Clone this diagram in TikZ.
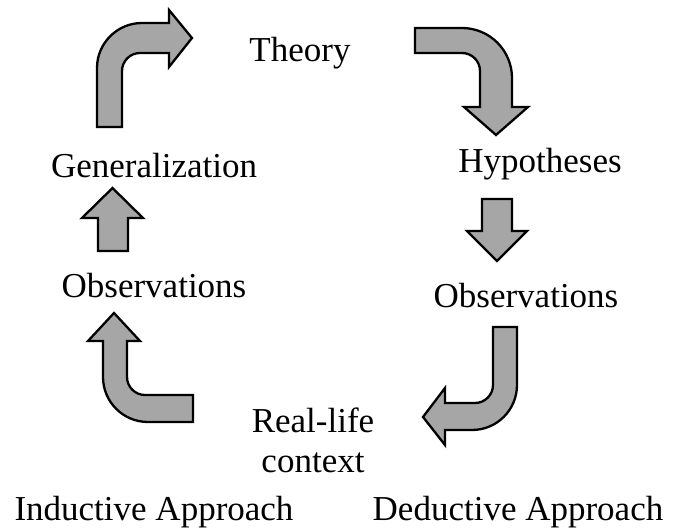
\documentclass[tikz,border=0pt]{standalone}
\usepackage{fontspec}
\setmainfont{Liberation Serif}
\begin{document}
\begin{tikzpicture}[x=1pt,y=-1pt,
  blockarrow/.style={fill={rgb,255:red,166;green,166;blue,166},draw=black,line width=2.3pt,line join=miter},
  lbl/.style={anchor=base,inner sep=0pt,font=\fontsize{35}{41}\selectfont}]
\useasboundingbox (0,0) rectangle (681,532);
% texts
\node[lbl] (theory) at (300,62) {Theory};
\node[lbl] (gen) at (154,178) {Generalization};
\node[lbl] (hyp) at (540,173) {Hypotheses};
\node[lbl] (obsl) at (154,298) {Observations};
\node[lbl] (obsr) at (526,308) {Observations};
\node[lbl] (real) at (313,432) {Real-life};
\node[lbl] (ctx) at (313,472) {context};
\node[lbl] (ind) at (154,520) {Inductive Approach};
\node[lbl] (ded) at (518,520) {Deductive Approach};
% top-left bent arrow
\draw[blockarrow] (97,127) -- (97,68) .. controls (97,43.2) and (117.2,23) .. (142,23) -- (169,23) -- (169,10) -- (192,38) -- (169,67) -- (169,53) -- (140,53) .. controls (130.1,53) and (122,61.1) .. (122,71) -- (122,127) -- cycle;
% top-right bent arrow
\draw[blockarrow] (415,28) -- (462,28) .. controls (489.6,28) and (512,50.4) .. (512,78) -- (512,107) -- (528,107) -- (496,135) -- (464,107) -- (480,107) -- (480,71) .. controls (480,61.1) and (471.9,53) .. (462,53) -- (415,53) -- cycle;
% bottom-right bent arrow
\draw[blockarrow] (493,327) -- (517,327) -- (517,385) .. controls (517,409.9) and (496.9,430) .. (472,430) -- (445,430) -- (445,445) -- (423,417) -- (445,388) -- (445,403) -- (475,403) .. controls (484.9,403) and (493,394.9) .. (493,385) -- cycle;
% bottom-left bent arrow
\draw[blockarrow] (193,395) -- (145,395) .. controls (135.1,395) and (127,386.9) .. (127,377) -- (127,341) -- (140,341) -- (114,313) -- (88,341) -- (103,341) -- (103,377) .. controls (103,401.9) and (123.1,422) .. (148,422) -- (193,422) -- cycle;
% small up arrow
\draw[blockarrow] (98,251) -- (98,218) -- (82,218) -- (112.5,188) -- (143,218) -- (128,218) -- (128,251) -- cycle;
% small down arrow
\draw[blockarrow] (482,199) -- (512,199) -- (512,231) -- (527,231) -- (497,261) -- (467,231) -- (482,231) -- cycle;
\end{tikzpicture}
\end{document}
